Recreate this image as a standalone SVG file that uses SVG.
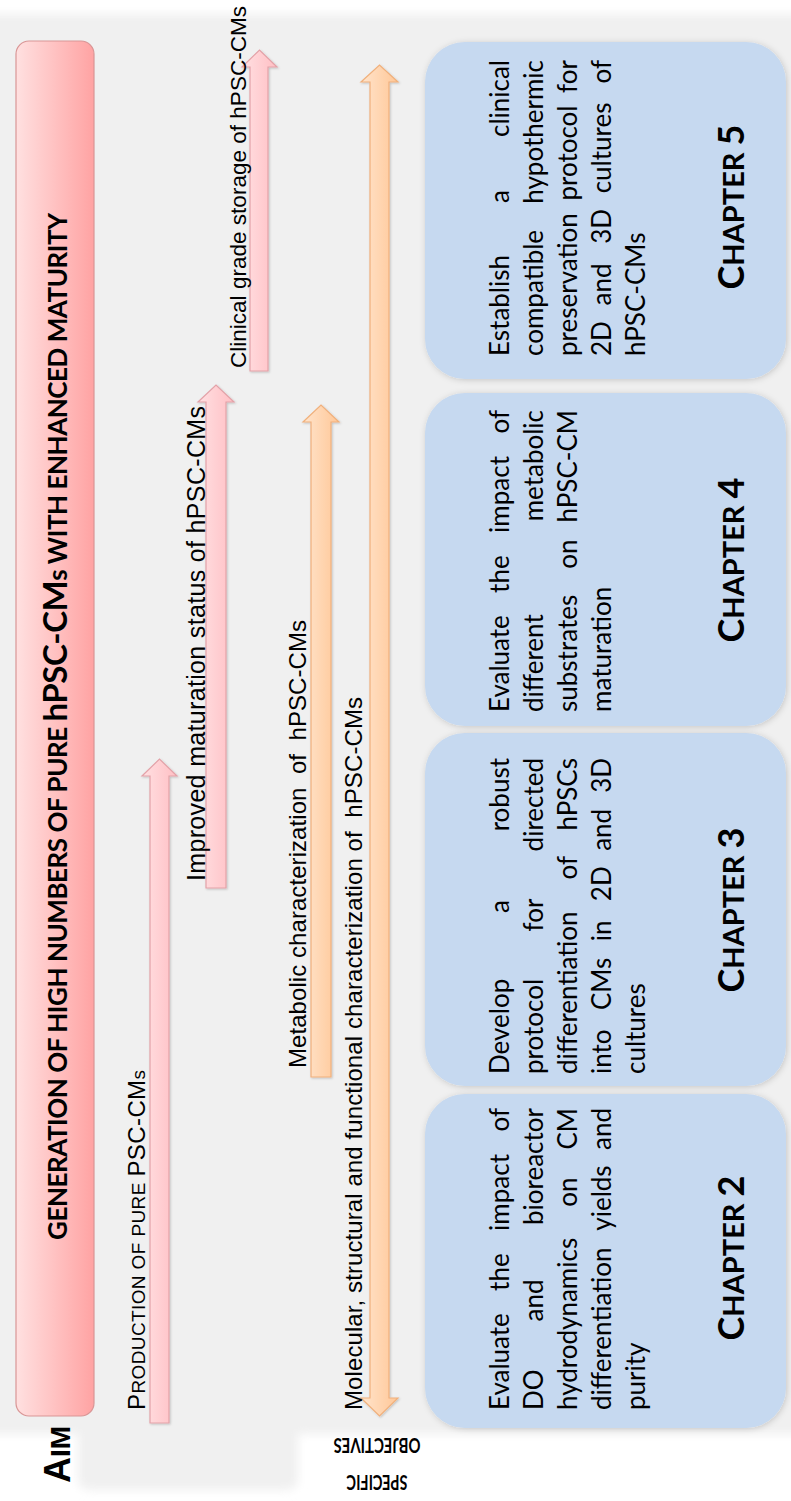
<svg xmlns="http://www.w3.org/2000/svg" width="791" height="1501" viewBox="0 0 791 1501">
<defs>
<linearGradient id="gAim" x1="0" y1="0" x2="1" y2="0"><stop offset="0" stop-color="#ffe0e0"/><stop offset="1" stop-color="#ffa3a3"/></linearGradient>
<linearGradient id="gPink" x1="0" y1="0" x2="1" y2="0"><stop offset="0" stop-color="#ffe0e2"/><stop offset="1" stop-color="#ffbfc4"/></linearGradient>
<linearGradient id="gOrange" x1="0" y1="0" x2="1" y2="0"><stop offset="0" stop-color="#ffe4cc"/><stop offset="1" stop-color="#ffc797"/></linearGradient>
<filter id="blur" x="-5%" y="-5%" width="110%" height="110%"><feGaussianBlur stdDeviation="5"/></filter>
<filter id="shadow" x="-10%" y="-10%" width="120%" height="120%"><feDropShadow dx="1" dy="1" stdDeviation="3" flood-color="#000" flood-opacity="0.18"/></filter>
<filter id="ashadow" x="-20%" y="-5%" width="140%" height="110%"><feDropShadow dx="1" dy="1" stdDeviation="1" flood-color="#000" flood-opacity="0.2"/></filter>
<style>
.lbl{font-family:"Liberation Sans",Arial,sans-serif;fill:#000}
.title{font-family:Lato,"Liberation Sans",sans-serif;font-weight:700;font-size:26px;fill:#000}
.body{font-family:Lato,"Open Sans",sans-serif;font-size:26px;fill:#000}
.chap{font-family:Lato,"Liberation Sans",sans-serif;font-weight:700;font-size:29px;fill:#000}
.pink{fill:url(#gPink);stroke:#e3a2a8;stroke-width:1.2;filter:url(#ashadow)}
.orange{fill:url(#gOrange);stroke:#f0b07c;stroke-width:1.2;filter:url(#ashadow)}
.box{fill:#c6d9f0;filter:url(#shadow)}
.e{text-anchor:end}
</style>
</defs>
<rect x="0" y="0" width="791" height="1501" fill="#ffffff"/>
<g filter="url(#blur)">
<rect x="-20" y="14" width="831" height="1420" fill="#f0f0f0"/>
<rect x="78" y="1400" width="220" height="90" rx="10" fill="#f0f0f0"/>
</g>

<g id="aim">
<rect x="16" y="41" width="78" height="1375" rx="13" fill="url(#gAim)" stroke="#d99696" stroke-width="1.2"/>
<text class="title" transform="translate(67,1240) rotate(-90)" textLength="1027" lengthAdjust="spacing">GENERATION OF HIGH NUMBERS OF PURE <tspan font-size="33">hPSC-CM</tspan>s WITH ENHANCED MATURITY</text>
</g>
<g id="aim-label">
<text class="lbl" font-weight="700" font-size="28" transform="translate(70,1483) rotate(-90)"><tspan font-size="36">A</tspan>IM</text>
</g>
<g id="objectives-label">
<text font-family="Lato,'Liberation Sans',sans-serif" font-weight="700" font-size="20" text-anchor="middle" transform="translate(377,1438) rotate(180)" textLength="87" lengthAdjust="spacingAndGlyphs">OBJECTIVES</text>
<text font-family="Lato,'Liberation Sans',sans-serif" font-weight="700" font-size="20" text-anchor="middle" transform="translate(377,1475) rotate(180)" textLength="61" lengthAdjust="spacingAndGlyphs">SPECIFIC</text>
</g>

<g id="connectors">
<polygon class="pink" points="150,1423 150,776 142,776 159.5,759 177,776 169,776 169,1423"/>
<polygon class="pink" points="206,888 206,402 198,402 216,385 234,402 226,402 226,888"/>
<polygon class="pink" points="250,371 250,67 242,67 259.5,50 277,67 268,67 268,371"/>
<polygon class="orange" points="311,1077 311,422 303,422 321,405 339,422 331,422 331,1077"/>
<polygon class="orange" points="370,1398 370,82 361,82 379.5,65 398,82 389,82 389,1398 398,1398 379.5,1416 361,1398"/>
</g>

<g id="arrow-labels">
<text class="lbl" font-size="19" transform="translate(145,1410) rotate(-90)" textLength="340" lengthAdjust="spacing"><tspan font-size="24">P</tspan>RODUCTION OF PURE <tspan font-size="24">PSC-CM</tspan>s</text>
<text class="lbl" font-size="25" transform="translate(205,881) rotate(-90)" textLength="475" lengthAdjust="spacing">Improved maturation status of hPSC-CMs</text>
<text class="lbl" font-size="22.5" transform="translate(246,368) rotate(-90)" textLength="362" lengthAdjust="spacing">Clinical grade storage of hPSC-CMs</text>
<text class="lbl" font-size="24" transform="translate(306,1068) rotate(-90)" textLength="448" lengthAdjust="spacing" xml:space="preserve">Metabolic characterization  of  hPSC-CMs</text>
<text class="lbl" font-size="24" transform="translate(362,1410) rotate(-90)" textLength="713" lengthAdjust="spacing" xml:space="preserve">Molecular, structural and functional characterization of  hPSC-CMs</text>
</g>

<g id="chapter2">
<rect class="box" x="425" y="1094" width="361" height="334" rx="40"/>
<g class="body" transform="translate(0,1410) rotate(-90)">
<text x="0" y="509">Evaluate</text><text x="119.1" y="509">the</text><text x="179.1" y="509">impact</text><text class="e" x="302" y="509">of</text>
<text x="0" y="543">DO</text><text x="88.5" y="543">and</text><text class="e" x="302" y="543">bioreactor</text>
<text x="0" y="577">hydrodynamics</text><text x="203.3" y="577">on</text><text class="e" x="302" y="577">CM</text>
<text x="0" y="611">differentiation</text><text x="179.3" y="611">yields</text><text class="e" x="302" y="611">and</text>
<text x="0" y="645">purity</text>
</g>
<text class="chap" text-anchor="middle" transform="translate(744,1258) rotate(-90)"><tspan font-size="36">C</tspan>HAPTER <tspan font-size="36">2</tspan></text>
</g>

<g id="chapter3">
<rect class="box" x="425" y="733" width="361" height="353" rx="40"/>
<g class="body" transform="translate(0,1074) rotate(-90)">
<text x="0" y="509">Develop</text><text x="161" y="509">a</text><text class="e" x="316" y="509">robust</text>
<text x="0" y="543">protocol</text><text x="142.5" y="543">for</text><text class="e" x="316" y="543">directed</text>
<text x="0" y="577">differentiation</text><text x="194.6" y="577">of</text><text class="e" x="316" y="577">hPSCs</text>
<text x="0" y="611">into</text><text x="64" y="611">CMs</text><text x="132.7" y="611">in</text><text x="172.8" y="611">2D</text><text x="223.2" y="611">and</text><text class="e" x="316" y="611">3D</text>
<text x="0" y="645">cultures</text>
</g>
<text class="chap" text-anchor="middle" transform="translate(744,910) rotate(-90)"><tspan font-size="36">C</tspan>HAPTER <tspan font-size="36">3</tspan></text>
</g>

<g id="chapter4">
<rect class="box" x="425" y="393" width="361" height="333" rx="40"/>
<g class="body" transform="translate(0,712) rotate(-90)">
<text x="0" y="509">Evaluate</text><text x="119.1" y="509">the</text><text x="179.1" y="509">impact</text><text class="e" x="302" y="509">of</text>
<text x="0" y="543">different</text><text class="e" x="302" y="543">metabolic</text>
<text x="0" y="577">substrates</text><text x="143.3" y="577">on</text><text class="e" x="302" y="577">hPSC-CM</text>
<text x="0" y="611">maturation</text>
</g>
<text class="chap" text-anchor="middle" transform="translate(744,560) rotate(-90)"><tspan font-size="36">C</tspan>HAPTER <tspan font-size="36">4</tspan></text>
</g>

<g id="chapter5">
<rect class="box" x="425" y="42" width="361" height="337" rx="40"/>
<g class="body" transform="translate(0,356) rotate(-90)">
<text x="0" y="509">Establish</text><text x="152.9" y="509">a</text><text class="e" x="296" y="509">clinical</text>
<text x="0" y="543">compatible</text><text class="e" x="296" y="543">hypothermic</text>
<text x="0" y="577">preservation</text><text x="155.4" y="577">protocol</text><text class="e" x="296" y="577">for</text>
<text x="0" y="611">2D</text><text x="50.5" y="611">and</text><text x="112.2" y="611">3D</text><text x="162.7" y="611">cultures</text><text class="e" x="296" y="611">of</text>
<text x="0" y="645">hPSC-CMs</text>
</g>
<text class="chap" text-anchor="middle" transform="translate(744,207) rotate(-90)"><tspan font-size="36">C</tspan>HAPTER <tspan font-size="36">5</tspan></text>
</g>
</svg>
